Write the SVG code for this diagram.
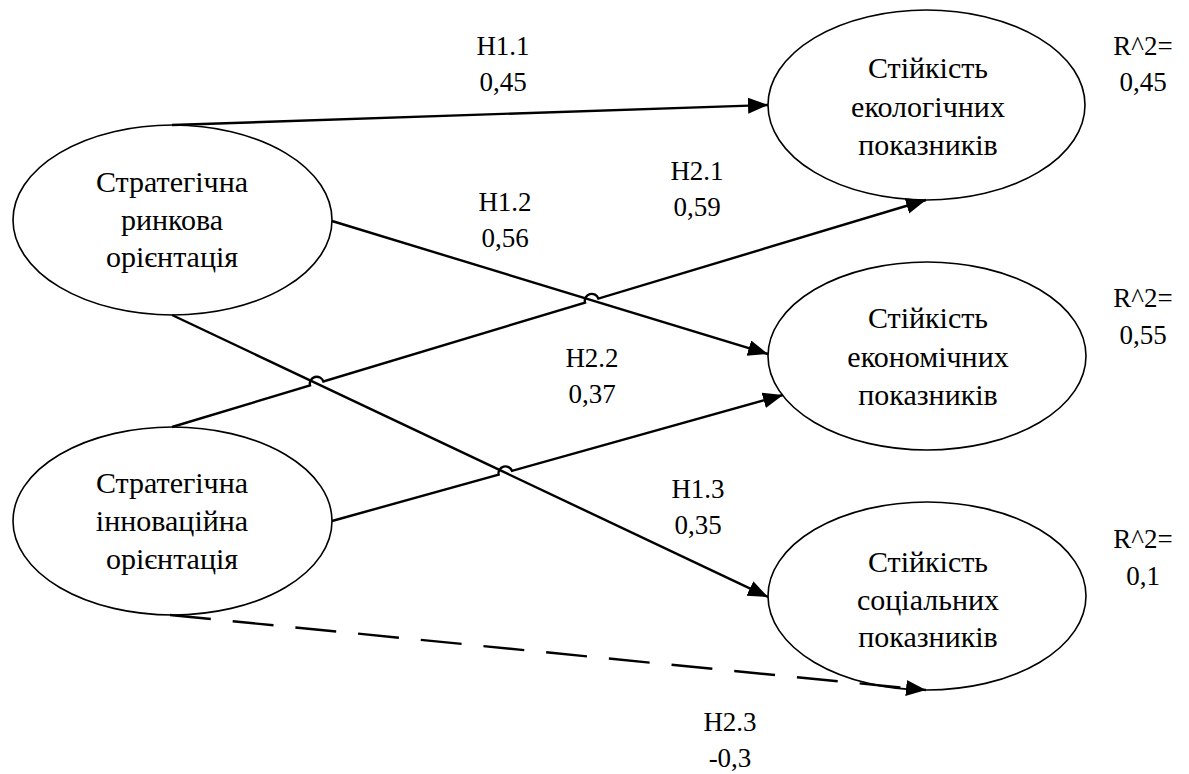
<svg xmlns="http://www.w3.org/2000/svg" width="1189" height="774" viewBox="0 0 1189 774">
<style>
.node{fill:#fff;stroke:#000;stroke-width:1.6}
.t{font-size:30px;fill:#000;text-anchor:middle}
.l{font-size:27px;fill:#000;text-anchor:middle}
.c{fill:none;stroke:#000;stroke-width:2.4}
.d{stroke-dasharray:41 22}
</style>
<defs>
<marker id="ah" markerUnits="userSpaceOnUse" markerWidth="22" markerHeight="18" refX="20" refY="8" orient="auto">
<path d="M0,0 L20,8 L0,16 z" fill="#000"/>
</marker>
</defs>
<g font-family="Liberation Serif, Times New Roman, serif">
<g id="n1"><ellipse class="node" cx="172.5" cy="220" rx="159.5" ry="95"/>
<text class="t" x="172" y="192">Стратегічна</text><text class="t" x="172" y="230">ринкова</text><text class="t" x="172" y="267">орієнтація</text></g>
<g id="n2"><ellipse class="node" cx="172.5" cy="521" rx="159.5" ry="94"/>
<text class="t" x="172" y="493">Стратегічна</text><text class="t" x="172" y="531">інноваційна</text><text class="t" x="172" y="569">орієнтація</text></g>
<g id="n3"><ellipse class="node" cx="926.5" cy="105" rx="158.5" ry="95"/>
<text class="t" x="928" y="78">Стійкість</text><text class="t" x="928" y="117">екологічних</text><text class="t" x="928" y="155">показників</text></g>
<g id="n4"><ellipse class="node" cx="927" cy="356" rx="159" ry="94"/>
<text class="t" x="928" y="328">Стійкість</text><text class="t" x="928" y="367">економічних</text><text class="t" x="928" y="405">показників</text></g>
<g id="n5"><ellipse class="node" cx="927" cy="596" rx="159" ry="94"/>
<text class="t" x="928" y="572">Стійкість</text><text class="t" x="928" y="610">соціальних</text><text class="t" x="928" y="647">показників</text></g>
<g id="connectors">
<path class="c" marker-end="url(#ah)" d="M172,125 L768,105"/>
<path class="c" marker-end="url(#ah)" d="M332,221 L768,354"/>
<path class="c" marker-end="url(#ah)" d="M172,315 L768,597"/>
<path class="c" marker-end="url(#ah)" d="M172,427 L310.0,385.4 A7,7 0 0 1 323.4,381.4 L585.0,302.6 A7,7 0 0 1 598.4,298.6 L926,200"/>
<path class="c" marker-end="url(#ah)" d="M332,521 L498.6,474.6 A7,7 0 0 1 512.0,470.8 L783,395"/>
<path class="c d" marker-end="url(#ah)" d="M170,615 L926,690"/>
</g>
<g id="labels">
<text class="l" x="503" y="55">H1.1</text><text class="l" x="503" y="91">0,45</text>
<text class="l" x="505" y="211">H1.2</text><text class="l" x="505" y="247">0,56</text>
<text class="l" x="697" y="180">H2.1</text><text class="l" x="697" y="216">0,59</text>
<text class="l" x="592" y="367">H2.2</text><text class="l" x="592" y="403">0,37</text>
<text class="l" x="698" y="498">H1.3</text><text class="l" x="698" y="534">0,35</text>
<text class="l" x="730" y="731">H2.3</text><text class="l" x="730" y="767">-0,3</text>
<text class="l" x="1143" y="55">R^2=</text><text class="l" x="1143" y="91">0,45</text>
<text class="l" x="1143" y="307">R^2=</text><text class="l" x="1143" y="344">0,55</text>
<text class="l" x="1143" y="548">R^2=</text><text class="l" x="1143" y="585">0,1</text>
</g>
</g>
</svg>
